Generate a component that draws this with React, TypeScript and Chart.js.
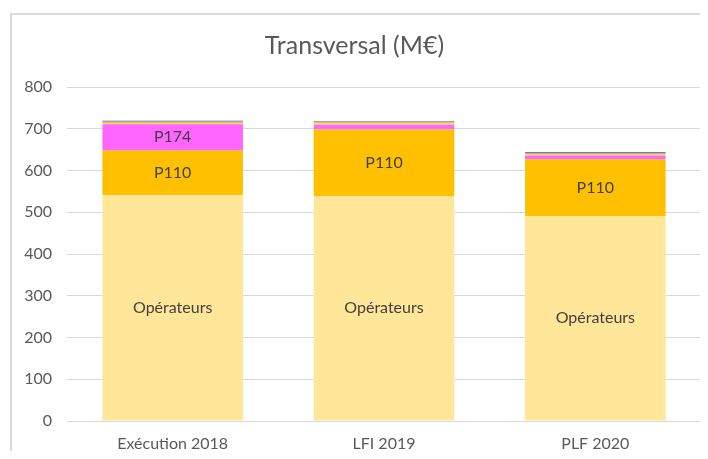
import React, { useEffect, useRef } from "react";
import { Chart, registerables } from "chart.js";

Chart.register(...registerables);

const categories = ["Exécution 2018", "LFI 2019", "PLF 2020"];
const operateurs = [541, 539, 491];
const p110 = [107, 159, 136];
const p174 = [63, 11, 9];
const autreA = [3, 3, 2];
const autreB = [2, 3, 2];
const autreC = [2, 2, 2];
const autreD = [1, 1, 2];
const yTicks = [0, 100, 200, 300, 400, 500, 600, 700, 800];
const title = "Transversal (M€)";

// which bars show the series name inside the segment
const showOperateurs = [true, true, true];
const showP110 = [true, true, true];
const showP174 = [true, false, false];

const FONT = "Lato, 'Open Sans', 'Liberation Sans', sans-serif";

const segmentLabels = {
  id: "segmentLabels",
  afterDatasetsDraw(chart: any) {
    const ctx = chart.ctx;
    ctx.save();
    ctx.font = `16px ${FONT}`;
    ctx.fillStyle = "#404040";
    ctx.textAlign = "center";
    ctx.textBaseline = "middle";
    chart.data.datasets.forEach((ds: any, i: number) => {
      const flags: boolean[] | undefined = ds.showName;
      if (!flags) return;
      const meta = chart.getDatasetMeta(i);
      meta.data.forEach((el: any, j: number) => {
        if (!flags[j]) return;
        const p = el.getCenterPoint();
        ctx.fillText(ds.label, p.x, p.y);
      });
    });
    ctx.restore();
  },
};

export default function App() {
  const ref = useRef<HTMLCanvasElement | null>(null);

  useEffect(() => {
    if (!ref.current) return;
    const mk = (label: string, data: number[], color: string, showName?: boolean[]) => ({
      label,
      data,
      backgroundColor: color,
      borderWidth: 0,
      categoryPercentage: 1,
      barPercentage: 0.665,
      showName,
    });
    const chart = new Chart(ref.current, {
      type: "bar",
      data: {
        labels: categories,
        datasets: [
          mk("Opérateurs", operateurs, "#FFE699", showOperateurs),
          mk("P110", p110, "#FFC000", showP110),
          mk("P174", p174, "#FF66FF", showP174),
          mk("Autre A", autreA, "#F8CBAD"),
          mk("Autre B", autreB, "#FFC000"),
          mk("Autre C", autreC, "#8497B0"),
          mk("Autre D", autreD, "#44546A"),
        ] as any,
      },
      options: {
        animation: false,
        responsive: false,
        maintainAspectRatio: false,
        layout: { padding: { left: 0, right: 7, top: 0, bottom: 0 } },
        plugins: {
          legend: { display: false },
          tooltip: { enabled: false },
          title: {
            display: true,
            text: title,
            color: "#595959",
            font: { family: FONT, size: 25, weight: "normal" as any },
            padding: { top: 23, bottom: 26 },
          },
        },
        scales: {
          x: {
            stacked: true,
            grid: { display: false, drawTicks: false },
            border: { display: true, color: "#D9D9D9" },
            ticks: {
              color: "#595959",
              font: { family: FONT, size: 16 },
              padding: 13,
            },
            afterFit: (s: any) => {
              s.height = 38;
            },
          },
          y: {
            stacked: true,
            min: 0,
            max: 800,
            grid: { color: "#D9D9D9", drawTicks: false },
            border: { display: false },
            ticks: {
              stepSize: 100,
              color: "#595959",
              font: { family: FONT, size: 16 },
              padding: 15,
              callback: (v: any) => (yTicks.includes(Number(v)) ? String(v) : ""),
            },
            afterFit: (s: any) => {
              s.width = 59;
            },
          },
        },
      },
      plugins: [segmentLabels],
    });
    return () => chart.destroy();
  }, []);

  return (
    <div
      style={{
        position: "relative",
        width: 700,
        height: 451,
        marginBottom: -8,
        overflow: "hidden",
      }}
    >
      <canvas ref={ref} width={700} height={451} style={{ position: "absolute", left: 0, top: 0 }} />
      <div
        style={{
          position: "absolute",
          left: 2,
          top: 5,
          right: -8,
          bottom: -8,
          borderLeft: "2px solid #D9D9D9",
          borderTop: "2px solid #D9D9D9",
          pointerEvents: "none",
        }}
      />
    </div>
  );
}
